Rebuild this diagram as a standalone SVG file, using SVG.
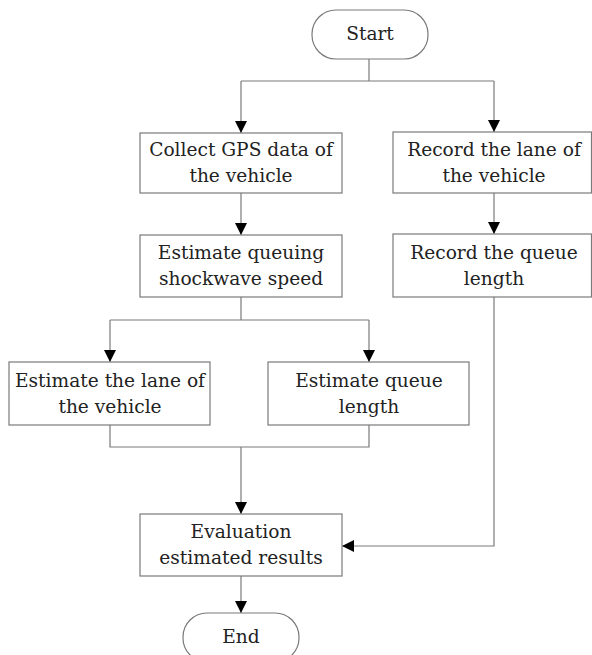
<svg xmlns="http://www.w3.org/2000/svg" width="592" height="655" viewBox="0 0 592 655">
<style>
.box{fill:#fff;stroke:#7a7a7a;stroke-width:1.2}
.t{font-family:"DejaVu Serif","Liberation Serif",serif;font-size:18.6px;fill:#222;text-anchor:middle}
.c{fill:none;stroke:#7a7a7a;stroke-width:1.2}
</style>
<defs>
<marker id="ah" markerUnits="userSpaceOnUse" markerWidth="12" markerHeight="14" viewBox="0 0 12 14" refX="12" refY="7" orient="auto">
<path d="M0,1 L12,7 L0,13 Z" fill="#000"/>
</marker>
</defs>
<rect width="592" height="655" fill="#fff"/>
<g id="connectors">
<path class="c" d="M369,59 V81"/>
<path class="c" d="M241,81 H494"/>
<path class="c" d="M241,81 V133" marker-end="url(#ah)"/>
<path class="c" d="M494,81 V132" marker-end="url(#ah)"/>
<path class="c" d="M241,193 V235" marker-end="url(#ah)"/>
<path class="c" d="M494,193 V234" marker-end="url(#ah)"/>
<path class="c" d="M241,297 V320"/>
<path class="c" d="M110,320 H369"/>
<path class="c" d="M110,320 V362" marker-end="url(#ah)"/>
<path class="c" d="M369,320 V362" marker-end="url(#ah)"/>
<path class="c" d="M110,425 V447 H369 V425"/>
<path class="c" d="M241,447 V514" marker-end="url(#ah)"/>
<path class="c" d="M494,297 V546 H342" marker-end="url(#ah)"/>
<path class="c" d="M241,576 V613" marker-end="url(#ah)"/>
</g>
<g id="start">
<rect class="box" x="312" y="10" width="116" height="49" rx="24" ry="24"/>
<text class="t" x="370" y="40">Start</text>
</g>
<g id="collect">
<rect class="box" x="140" y="133" width="202" height="60"/>
<text class="t" x="241" y="156">Collect GPS data of</text>
<text class="t" x="241" y="182">the vehicle</text>
</g>
<g id="record-lane">
<rect class="box" x="393" y="132" width="198.5" height="61"/>
<text class="t" x="494" y="156">Record the lane of</text>
<text class="t" x="494" y="182">the vehicle</text>
</g>
<g id="estimate-shockwave">
<rect class="box" x="140" y="235" width="202" height="62"/>
<text class="t" x="241" y="259">Estimate queuing</text>
<text class="t" x="241" y="285">shockwave speed</text>
</g>
<g id="record-queue">
<rect class="box" x="393" y="234" width="198.5" height="63"/>
<text class="t" x="494" y="259">Record the queue</text>
<text class="t" x="494" y="285">length</text>
</g>
<g id="estimate-lane">
<rect class="box" x="9" y="362" width="201" height="63"/>
<text class="t" x="110" y="387">Estimate the lane of</text>
<text class="t" x="110" y="413">the vehicle</text>
</g>
<g id="estimate-queue">
<rect class="box" x="268" y="362" width="201" height="63"/>
<text class="t" x="369" y="387">Estimate queue</text>
<text class="t" x="369" y="413">length</text>
</g>
<g id="evaluation">
<rect class="box" x="140" y="514" width="202" height="62"/>
<text class="t" x="241" y="538">Evaluation</text>
<text class="t" x="241" y="564">estimated results</text>
</g>
<g id="end">
<rect class="box" x="183" y="613" width="116" height="49" rx="24" ry="24"/>
<text class="t" x="241" y="643">End</text>
</g>
</svg>
